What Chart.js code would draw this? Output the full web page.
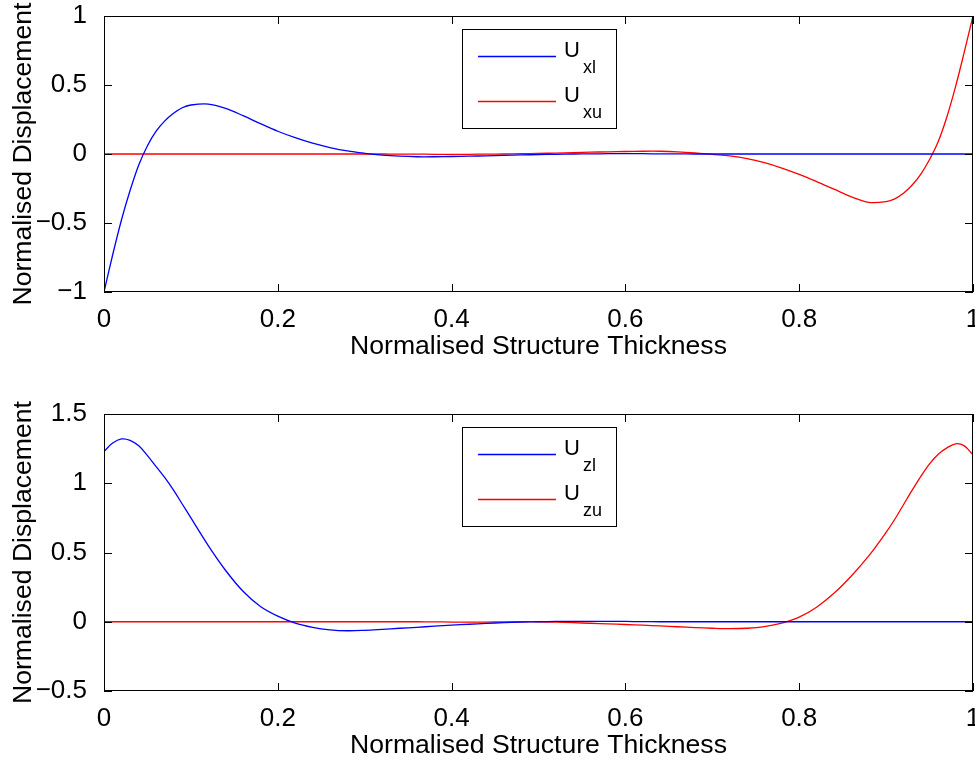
<!DOCTYPE html>
<html lang="en">
<head>
<meta charset="UTF-8">
<title>Normalised Displacement</title>
<script src="https://cdn.jsdelivr.net/npm/chart.js"></script>
<style>
    body { margin: 0; background: #fff; }
    .panel { position: absolute; left: 0; width: 975px; height: 380px; }
    #topPanel { top: 0; }
    #bottomPanel { top: 380px; }
</style>
</head>
<body>
<div class="panel" id="topPanel"><canvas id="chartX" width="975" height="380"></canvas></div>
<div class="panel" id="bottomPanel"><canvas id="chartZ" width="975" height="380"></canvas></div>
<script>
// x values (normalised thickness), shared by all four curves
const thickness = [0, 0.01, 0.02, 0.03, 0.04, 0.05, 0.06, 0.07, 0.08, 0.09, 0.10,
    0.12, 0.14, 0.16, 0.18, 0.20, 0.22, 0.24, 0.26, 0.28, 0.30, 0.32, 0.34, 0.36, 0.38,
    0.40, 0.42, 0.44, 0.46, 0.48, 0.50, 0.52, 0.54, 0.56, 0.58, 0.60, 0.62, 0.64, 0.66,
    0.68, 0.70, 0.72, 0.74, 0.76, 0.78, 0.80, 0.82, 0.84, 0.86, 0.88,
    0.90, 0.91, 0.92, 0.93, 0.94, 0.95, 0.96, 0.97, 0.98, 0.99, 1.00];

// top plot
const uxl = [-1.00, -0.73, -0.48, -0.265, -0.08, 0.06, 0.165, 0.24, 0.295, 0.335, 0.355,
    0.362, 0.33, 0.278, 0.22, 0.165, 0.118, 0.078, 0.047, 0.022, 0.005, -0.008, -0.016, -0.02, -0.02,
    -0.018, -0.016, -0.013, -0.01, -0.007, -0.004, -0.002, 0, 0.001, 0.002, 0.002, 0.002, 0.001, 0.001,
    0, 0, 0, 0, 0, 0, 0, 0, 0, 0, 0,
    0, 0, 0, 0, 0, 0, 0, 0, 0, 0, 0];
const uxu = [0, 0, 0, 0, 0, 0, 0, 0, 0, 0, 0,
    0, 0, 0, 0, 0, 0, 0, 0, 0, 0, 0, -0.001, -0.001, -0.002,
    -0.002, -0.002, -0.001, 0, 0.002, 0.004, 0.007, 0.01, 0.013, 0.016, 0.018, 0.02, 0.02, 0.016,
    0.008, -0.003, -0.014, -0.033, -0.063, -0.102, -0.148, -0.20, -0.255, -0.31, -0.35,
    -0.345, -0.325, -0.285, -0.225, -0.145, -0.04, 0.09, 0.27, 0.49, 0.74, 1.00];

// bottom plot
const uzl = [1.23, 1.29, 1.32, 1.31, 1.27, 1.20, 1.12, 1.04, 0.95, 0.85, 0.75,
    0.55, 0.37, 0.22, 0.11, 0.04, -0.01, -0.04, -0.058, -0.065, -0.062, -0.055, -0.047, -0.04, -0.032,
    -0.025, -0.018, -0.012, -0.006, -0.002, 0, 0.002, 0.003, 0.003, 0.003, 0.002, 0.001, 0, 0,
    0, 0, 0, 0, 0, 0, 0, 0, 0, 0, 0,
    0, 0, 0, 0, 0, 0, 0, 0, 0, 0, 0];
const uzu = [0, 0, 0, 0, 0, 0, 0, 0, 0, 0, 0,
    0, 0, 0, 0, 0, 0, 0, 0, 0, 0, 0, 0, 0, -0.001,
    -0.002, -0.002, -0.002, -0.001, 0, 0, -0.003, -0.007, -0.011, -0.015, -0.02, -0.025, -0.03, -0.036,
    -0.042, -0.047, -0.05, -0.047, -0.035, -0.01, 0.033, 0.105, 0.205, 0.33, 0.475,
    0.645, 0.74, 0.845, 0.95, 1.05, 1.14, 1.21, 1.255, 1.285, 1.27, 1.205];

const xTicks = [0, 0.2, 0.4, 0.6, 0.8, 1];
const yTicksTop = [-1, -0.5, 0, 0.5, 1];
const yTicksBottom = [-0.5, 0, 0.5, 1, 1.5];
const subsTop = ['xl', 'xu'];
const subsBottom = ['zl', 'zu'];

const FONT = '"Liberation Sans", Arial, Helvetica, sans-serif';

function pts(ys) {
    return thickness.map((x, i) => ({ x: x, y: ys[i] }));
}

function fmt(v) {
    return String(Math.round(v * 10) / 10).replace('-', '\u2212');
}

// box around the axes with inward ticks on all four sides (matlab look)
const boxTicks = {
    id: 'boxTicks',
    afterDatasetsDraw(chart) {
        const { ctx, chartArea: a, scales: { x, y } } = chart;
        ctx.save();
        ctx.strokeStyle = '#000';
        ctx.lineWidth = 1;
        ctx.beginPath();
        x.ticks.forEach(t => {
            const px = Math.round(x.getPixelForValue(t.value)) + 0.5;
            ctx.moveTo(px, a.bottom); ctx.lineTo(px, a.bottom - 8);
            ctx.moveTo(px, a.top); ctx.lineTo(px, a.top + 8);
        });
        y.ticks.forEach(t => {
            const py = Math.round(y.getPixelForValue(t.value)) + 0.5;
            ctx.moveTo(a.left, py); ctx.lineTo(a.left + 8, py);
            ctx.moveTo(a.right, py); ctx.lineTo(a.right - 8, py);
        });
        ctx.stroke();
        ctx.strokeRect(Math.round(a.left) + 0.5, Math.round(a.top) + 0.5,
            Math.round(a.right - a.left) - 1, Math.round(a.bottom - a.top) - 1);
        ctx.restore();
    }
};

// legend with subscripts, boxed, at the top centre of the axes
const subLegend = {
    id: 'subLegend',
    afterDraw(chart, args, opts) {
        const { ctx, chartArea: a } = chart;
        const cx = Math.round((a.left + a.right) / 2);
        const left = cx - 77, top = Math.round(a.top) + 13;
        ctx.save();
        ctx.fillStyle = '#fff';
        ctx.fillRect(left, top, 154, 99);
        ctx.strokeStyle = '#000';
        ctx.lineWidth = 1;
        ctx.strokeRect(left + 0.5, top + 0.5, 154, 99);
        chart.data.datasets.forEach((ds, i) => {
            const yy = top + 27 + i * 45;
            ctx.strokeStyle = ds.borderColor;
            ctx.lineWidth = 1.3;
            ctx.beginPath();
            ctx.moveTo(cx - 61, yy + 0.5);
            ctx.lineTo(cx + 17, yy + 0.5);
            ctx.stroke();
            ctx.fillStyle = '#000';
            ctx.textBaseline = 'alphabetic';
            ctx.font = '22px ' + FONT;
            ctx.fillText('U', cx + 25, yy + 1);
            ctx.font = '18px ' + FONT;
            ctx.fillText(opts.subs[i], cx + 44, yy + 17);
        });
        ctx.restore();
    }
};

function makePlot(id, ys1, ys2, subs, yTicks, padTop, padBottom) {
    const ctx = document.getElementById(id).getContext('2d');
    return new Chart(ctx, {
        type: 'line',
        data: {
            datasets: [{
                label: 'U' + subs[0],
                data: pts(ys1),
                borderColor: '#0000ff',
                borderWidth: 1.3,
                pointRadius: 0,
                tension: 0.35
            }, {
                label: 'U' + subs[1],
                data: pts(ys2),
                borderColor: '#ff0000',
                borderWidth: 1.3,
                pointRadius: 0,
                tension: 0.35
            }]
        },
        options: {
            responsive: false,
            animation: false,
            layout: { padding: { left: 0, right: 2, top: padTop, bottom: padBottom } },
            plugins: {
                legend: { display: false },
                tooltip: { enabled: false },
                subLegend: { subs: subs }
            },
            scales: {
                x: {
                    type: 'linear',
                    min: 0,
                    max: 1,
                    grid: { display: false },
                    border: { display: false },
                    afterBuildTicks: s => { s.ticks = xTicks.map(v => ({ value: v })); },
                    afterFit: s => { s.height = 69; s.paddingLeft = 0; s.paddingRight = 0; },
                    ticks: {
                        color: '#000',
                        padding: 4,
                        maxRotation: 0,
                        autoSkip: false,
                        font: { family: FONT, size: 26 },
                        callback: v => fmt(v)
                    },
                    title: {
                        display: true,
                        text: 'Normalised Structure Thickness',
                        color: '#000',
                        padding: { top: 0, bottom: 1 },
                        font: { family: FONT, size: 26.6, lineHeight: 1 }
                    }
                },
                y: {
                    min: yTicks[0],
                    max: yTicks[yTicks.length - 1],
                    grid: { display: false },
                    border: { display: false },
                    afterBuildTicks: s => { s.ticks = yTicks.map(v => ({ value: v })); },
                    afterFit: s => { s.width = 104; s.paddingTop = 0; s.paddingBottom = 0; },
                    ticks: {
                        color: '#000',
                        padding: 9,
                        autoSkip: false,
                        font: { family: FONT, size: 26 },
                        callback: v => fmt(v)
                    },
                    title: {
                        display: true,
                        text: 'Normalised Displacement',
                        color: '#000',
                        padding: { top: 10, bottom: 0 },
                        font: { family: FONT, size: 26.6, lineHeight: 1 }
                    }
                }
            }
        },
        plugins: [boxTicks, subLegend]
    });
}

makePlot('chartX', uxl, uxu, subsTop, yTicksTop, 16, 19);
makePlot('chartZ', uzl, uzu, subsBottom, yTicksBottom, 34, 0);
</script>
</body>
</html>
